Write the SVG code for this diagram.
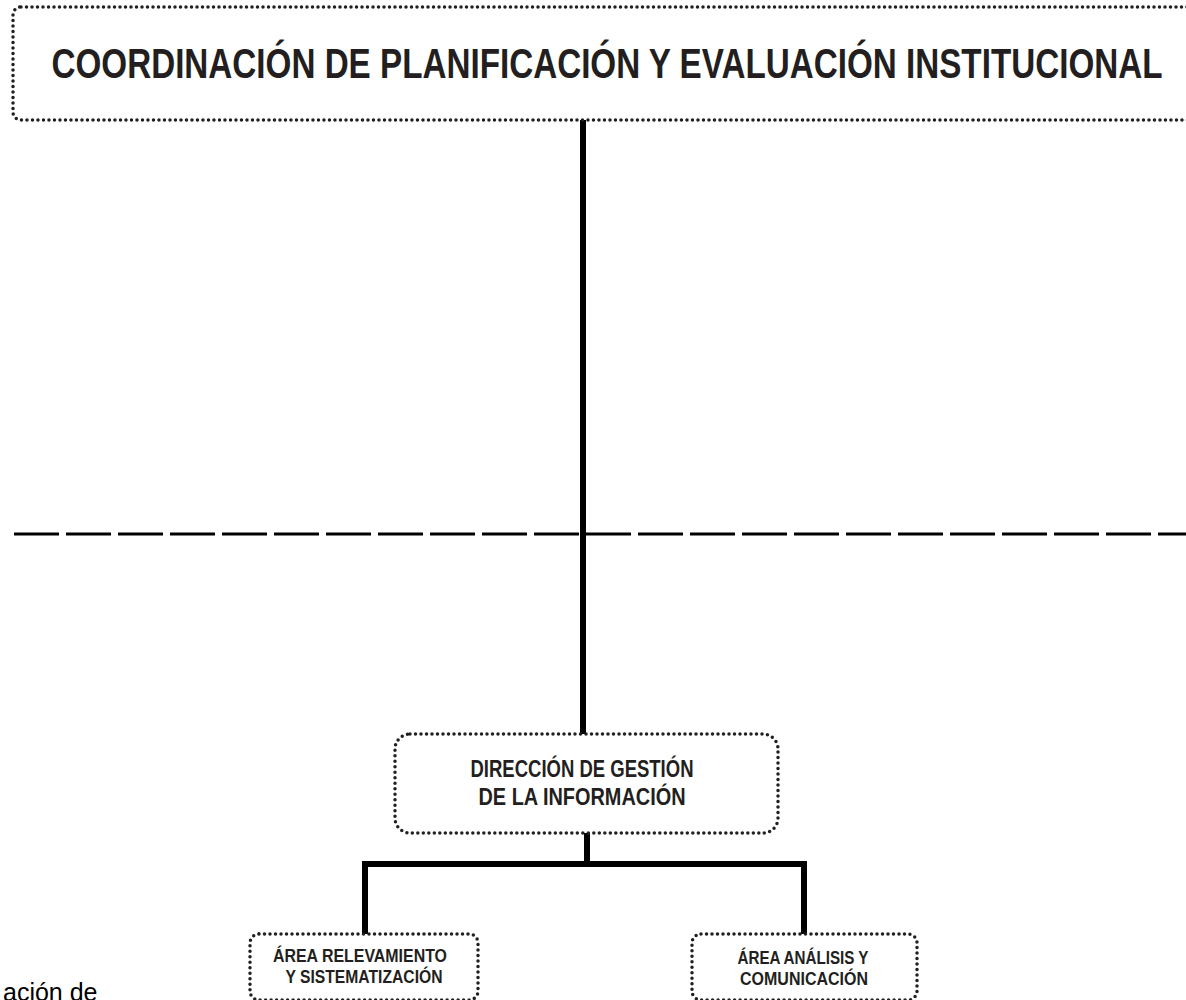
<svg xmlns="http://www.w3.org/2000/svg" width="1186" height="1000" viewBox="0 0 1186 1000">
<style>
.box{fill:#fff;stroke:#231f20;stroke-width:3.5;stroke-dasharray:0 5.5;stroke-linecap:round}
.t{font-family:"Liberation Sans",Arial,sans-serif;font-weight:bold;fill:#231f20;text-anchor:middle}
.ln{stroke:#000;fill:none;stroke-linecap:butt;stroke-linejoin:miter}
</style>
<rect width="1186" height="1000" fill="#fff"/>
<g id="connectors">
<line class="ln" x1="14" y1="534" x2="1186" y2="534" stroke="#222" stroke-width="3" stroke-dasharray="45 7"/>
<line class="ln" x1="583" y1="120" x2="583" y2="734" stroke-width="6"/>
<line class="ln" x1="587" y1="833" x2="587" y2="864" stroke-width="6"/>
<polyline class="ln" points="365,935 365,864 804,864 804,935" stroke-width="6"/>
</g>
<g id="node-coordinacion">
<rect class="box" x="13" y="7" width="1190" height="113" rx="8"/>
<text class="t" x="607" y="78" font-size="42" textLength="1111" lengthAdjust="spacingAndGlyphs">COORDINACIÓN DE PLANIFICACIÓN Y EVALUACIÓN INSTITUCIONAL</text>
</g>
<g id="node-direccion">
<rect class="box" x="395" y="734" width="383" height="99" rx="15"/>
<text class="t" x="582" y="777" font-size="24" textLength="223" lengthAdjust="spacingAndGlyphs">DIRECCIÓN DE GESTIÓN</text>
<text class="t" x="582" y="805" font-size="24" textLength="207" lengthAdjust="spacingAndGlyphs">DE LA INFORMACIÓN</text>
</g>
<g id="node-relevamiento">
<rect class="box" x="250" y="934" width="228" height="66" rx="9"/>
<text class="t" x="360" y="962" font-size="18" textLength="174" lengthAdjust="spacingAndGlyphs">ÁREA  RELEVAMIENTO</text>
<text class="t" x="364" y="983" font-size="18" textLength="157" lengthAdjust="spacingAndGlyphs">Y SISTEMATIZACIÓN</text>
</g>
<g id="node-analisis">
<rect class="box" x="692" y="934" width="225" height="66" rx="9"/>
<text class="t" x="803" y="964" font-size="18" textLength="131" lengthAdjust="spacingAndGlyphs">ÁREA ANÁLISIS Y</text>
<text class="t" x="804" y="985" font-size="18" textLength="128" lengthAdjust="spacingAndGlyphs">COMUNICACIÓN</text>
</g>
<text x="3" y="1001" font-family="Liberation Sans,Arial,sans-serif" font-size="25" fill="#000">ación de</text>
</svg>
